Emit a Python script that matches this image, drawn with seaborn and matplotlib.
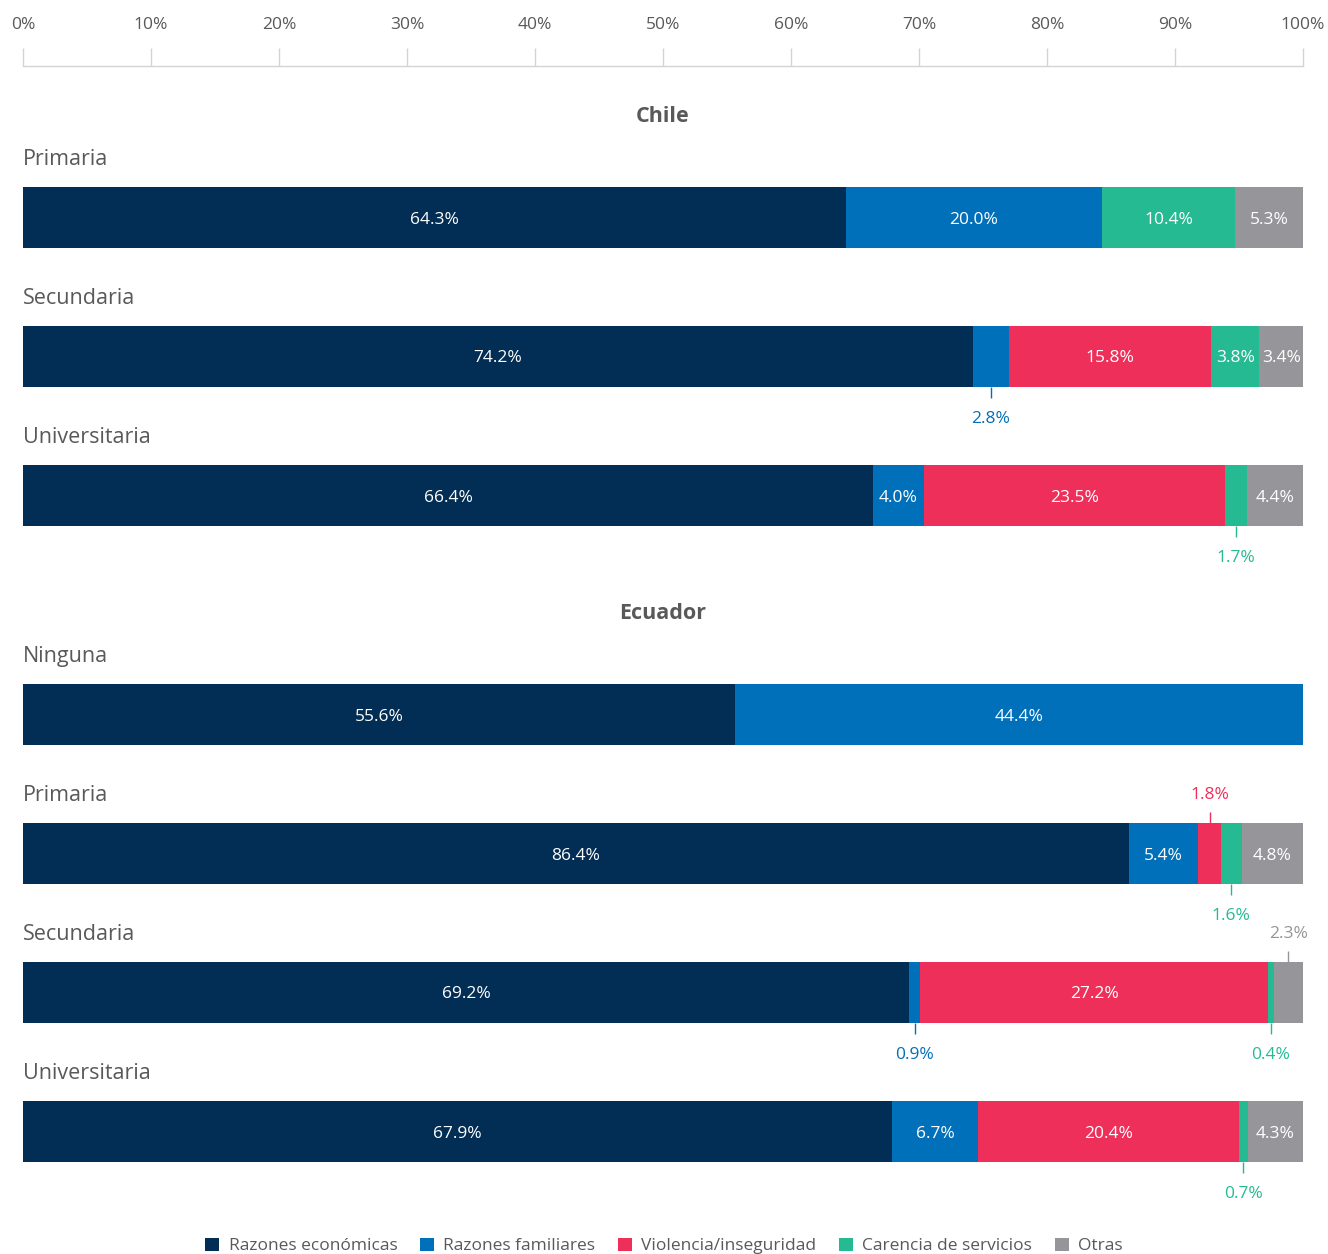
import pandas as pd
import numpy as np
import matplotlib
matplotlib.use("Agg")
import matplotlib.pyplot as plt
from matplotlib.patches import Patch
import seaborn as sns

# --- DATA ---
CATEGORIES = ["Razones económicas", "Razones familiares", "Violencia/inseguridad",
              "Carencia de servicios", "Otras"]
COLORS = ["#022d54", "#0070ba", "#ee2f5a", "#26ba93", "#96969a"]

CHILE_LEVELS = ["Primaria", "Secundaria", "Universitaria"]
CHILE_ECON = [64.3, 74.2, 66.4]
CHILE_FAM = [20.0, 2.8, 4.0]
CHILE_VIOL = [0.0, 15.8, 23.5]
CHILE_SERV = [10.4, 3.8, 1.7]
CHILE_OTRAS = [5.3, 3.4, 4.4]

ECU_LEVELS = ["Ninguna", "Primaria", "Secundaria", "Universitaria"]
ECU_ECON = [55.6, 86.4, 69.2, 67.9]
ECU_FAM = [44.4, 5.4, 0.9, 6.7]
ECU_VIOL = [0.0, 1.8, 27.2, 20.4]
ECU_SERV = [0.0, 1.6, 0.4, 0.7]
ECU_OTRAS = [0.0, 4.8, 2.3, 4.3]

TICKS = list(range(0, 101, 10))

# small segments labelled outside; these go above the bar, rest below
ABOVE = {("Ecuador", 1, 2), ("Ecuador", 2, 4)}

# --- LAYOUT (pixels) ---
W, H = 1328, 1254
X0, X1 = 23, 1303
STEP = 139
TEXT = "#595959"

sns.set_theme(style="white")
plt.rcParams["font.family"] = ["Open Sans", "DejaVu Sans"]


def px_ax(fig, top, bottom):
    return fig.add_axes([X0 / W, 1 - bottom / H, (X1 - X0) / W, (bottom - top) / H])


def draw_group(ax, name, levels, series, top, bottom, first):
    df = pd.DataFrame({"nivel": levels})
    vals = np.array(series)  # shape (5, n)
    cum = np.cumsum(vals, axis=0)
    for k in range(len(CATEGORIES) - 1, -1, -1):
        df["v"] = cum[k]
        sns.barplot(data=df, x="v", y="nivel", order=levels, orient="h",
                    color=COLORS[k], saturation=1, width=0.44, linewidth=0,
                    errorbar=None, ax=ax)
    ax.set_xlim(0, 100)
    ax.set_ylim((bottom - first) / STEP, -(first - top) / STEP)
    ax.set_xlabel("")
    ax.set_ylabel("")
    ax.set_yticks([])
    for s in ax.spines.values():
        s.set_visible(False)

    ax.text(50, (116 - 217.5) / STEP, name, ha="center", va="center",
            fontsize=15.5, fontweight="bold", color=TEXT)
    for i, lev in enumerate(levels):
        ax.text(0, i - 58 / STEP, lev, ha="left", va="center", fontsize=15.5, color=TEXT)
        starts = cum[:, i] - vals[:, i]
        for k in range(len(CATEGORIES)):
            v = vals[k, i]
            if v <= 0:
                continue
            xc = starts[k] + v / 2
            lab = f"{v:.1f}%"
            if v >= 3:
                ax.text(xc, i + 2 / STEP, lab, ha="center", va="center",
                        fontsize=12.5, color="white")
            else:
                sgn = -1 if (name, i, k) in ABOVE else 1
                ax.plot([xc, xc], [i + sgn * 0.22, i + sgn * 0.295],
                        color=COLORS[k], lw=1, solid_capstyle="butt")
                ax.text(xc, i + sgn * 0.435 + 2 / STEP, lab, ha="center", va="center",
                        fontsize=12.5, color=COLORS[k])


fig = plt.figure(figsize=(W / 100, H / 100), dpi=100)

ax1 = px_ax(fig, 66, 580)
draw_group(ax1, "Chile", CHILE_LEVELS,
           [CHILE_ECON, CHILE_FAM, CHILE_VIOL, CHILE_SERV, CHILE_OTRAS], 66, 580, 217.5)
ax1.xaxis.tick_top()
ax1.set_xticks(TICKS)
ax1.set_xticklabels([f"{t}%" for t in TICKS])
ax1.tick_params(axis="x", top=True, bottom=False, length=13, width=1,
                color="#d4d4d4", pad=11, labelsize=12.5, labelcolor=TEXT)
ax1.spines["top"].set_visible(True)
ax1.spines["top"].set_color("#d4d4d4")
ax1.spines["top"].set_linewidth(1)

ax2 = px_ax(fig, 590, 1215)
draw_group(ax2, "Ecuador", ECU_LEVELS,
           [ECU_ECON, ECU_FAM, ECU_VIOL, ECU_SERV, ECU_OTRAS], 590, 1215, 714.5)
ax2.set_xticks([])

handles = [Patch(facecolor=c, edgecolor="none") for c in COLORS]
leg = fig.legend(handles, CATEGORIES, loc="center", bbox_to_anchor=(0.5, 8 / H),
                 ncol=5, frameon=False, fontsize=12.5, handlelength=0.8,
                 handleheight=0.8, columnspacing=1.3, handletextpad=0.55)
for t in leg.get_texts():
    t.set_color(TEXT)

fig.savefig("out.png", dpi=100)
